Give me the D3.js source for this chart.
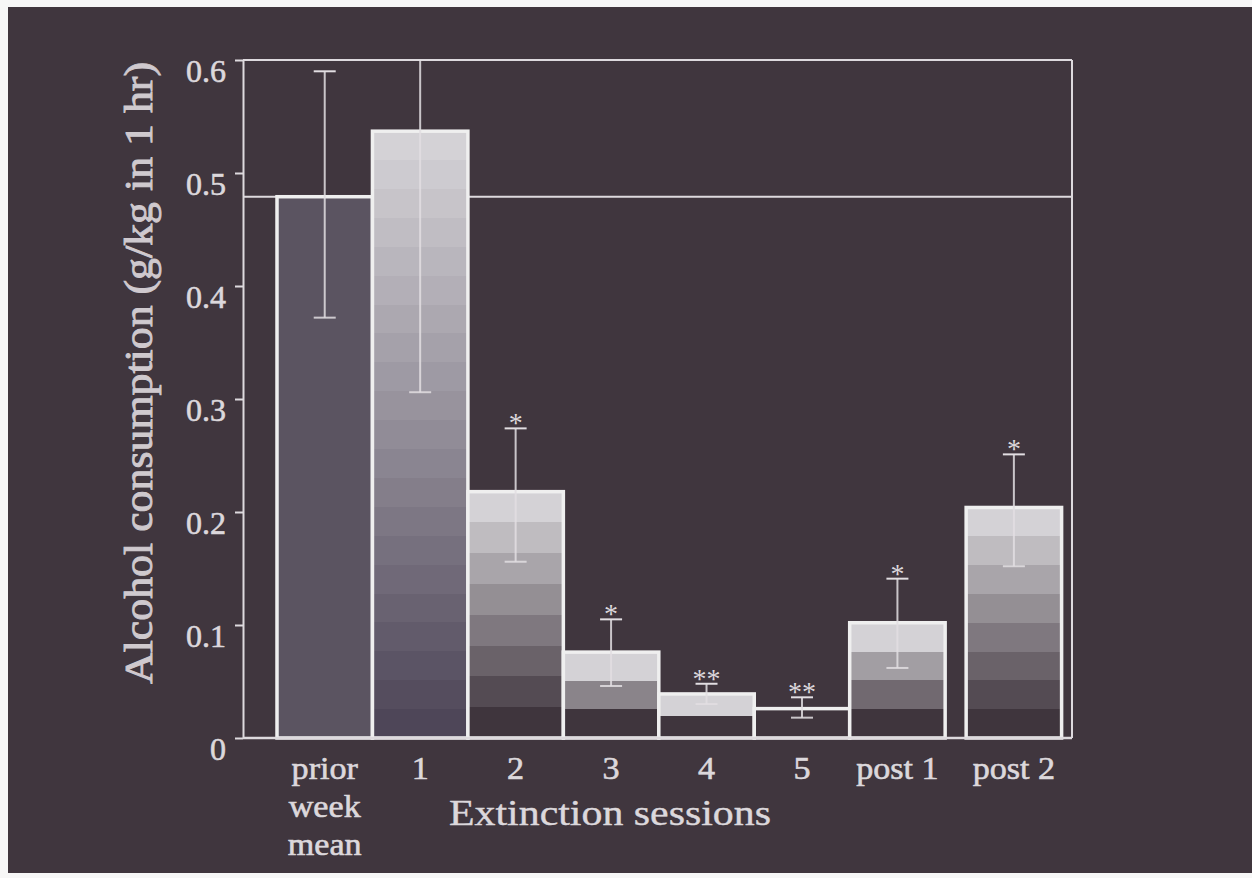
<!DOCTYPE html>
<html><head><meta charset="utf-8">
<script src="https://cdn.jsdelivr.net/npm/d3@7"></script>
<style>html,body{margin:0;padding:0;background:#fff;} svg{display:block}</style>
</head><body><svg id="chart" width="1252" height="878"></svg>
<script>
// ---- data ----
const categories = ["prior week mean", "1", "2", "3", "4", "5", "post 1", "post 2"];
const categoryLines = [["prior", "week", "mean"], ["1"], ["2"], ["3"], ["4"], ["5"], ["post 1"], ["post 2"]];
const means   = [0.479, 0.537, 0.218, 0.076, 0.039, 0.026, 0.102, 0.204];
const errHigh = [0.590, 0.768, 0.274, 0.105, 0.048, 0.036, 0.141, 0.251];
const errLow  = [0.372, 0.306, 0.156, 0.046, 0.030, 0.018, 0.062, 0.152];
const significance = ["", "", "*", "*", "**", "**", "*", "*"];
const yTicks = [0, 0.1, 0.2, 0.3, 0.4, 0.5, 0.6];
const yTickLabels = ["0", "0.1", "0.2", "0.3", "0.4", "0.5", "0.6"];
const priorMean = 0.479;
const yTitle = "Alcohol consumption (g/kg in 1 hr)";
const xTitle = "Extinction sessions";

// ---- layout ----
const W = 1252, H = 878;
const plot = {left: 243, top: 60, right: 1072, bottom: 738};
const barStart = 277, barStep = 95.45, post2Gap = 21;
const bg = "#40363e", lineCol = "#dedade", textCol = "#dcd8dc";
const lightFill = "#d4d2d6", darkFill = "#3f353d", bar1Dark = "#4e4658", priorFill = "#5b5461";

const svg = d3.select("#chart");
const defs = svg.append("defs");

svg.append("rect").attr("width", W).attr("height", H).attr("fill", bg);
// scan edge strips
svg.append("rect").attr("x", 0).attr("y", 0).attr("width", W).attr("height", 7).attr("fill", "#f7f7f7");
svg.append("rect").attr("x", 0).attr("y", 0).attr("width", 8).attr("height", H).attr("fill", "#f7f7f7");
svg.append("rect").attr("x", 0).attr("y", 873).attr("width", W).attr("height", 5).attr("fill", "#f7f7f7");

const y = d3.scaleLinear().domain([0, 0.6]).range([plot.bottom, plot.top]);
const x = d3.scaleBand().domain(categories).range([barStart, barStart + barStep * categories.length]).paddingInner(0).paddingOuter(0);
const xPos = d => x(d) + (d === "post 2" ? post2Gap : 0);
const bw = x.bandwidth();

const rows = categories.map((c, i) => ({c, i, m: means[i], hi: errHigh[i], lo: errLow[i], sig: significance[i], lines: categoryLines[i]}));

// frame: top and right borders, reference line
svg.append("line").attr("x1", plot.left).attr("x2", plot.right).attr("y1", plot.top).attr("y2", plot.top)
  .attr("stroke", lineCol).attr("stroke-width", 2);
svg.append("line").attr("x1", plot.right).attr("x2", plot.right).attr("y1", plot.top).attr("y2", plot.bottom)
  .attr("stroke", lineCol).attr("stroke-width", 2);
svg.append("line").attr("x1", plot.left).attr("x2", plot.right).attr("y1", y(priorMean)).attr("y2", y(priorMean))
  .attr("stroke", lineCol).attr("stroke-width", 2);

// gradients (stepped bands)
rows.forEach(r => {
  if (r.i === 0) return;
  const h = y(0) - y(r.m);
  const n = Math.max(1, Math.round(h / 29));
  const endCol = r.i === 1 ? bar1Dark : darkFill;
  const interp = d3.interpolateRgb(lightFill, endCol);
  const g = defs.append("linearGradient").attr("id", "grad" + r.i)
    .attr("x1", 0).attr("y1", 0).attr("x2", 0).attr("y2", 1);
  for (let k = 0; k < n; k++) {
    const col = n === 1 ? endCol : interp(k / (n - 1));
    g.append("stop").attr("offset", k / n).attr("stop-color", col);
    g.append("stop").attr("offset", (k + 1) / n).attr("stop-color", col);
  }
});

// bars
svg.append("g").selectAll("rect").data(rows).join("rect")
  .attr("x", d => xPos(d.c))
  .attr("y", d => y(d.m))
  .attr("width", bw)
  .attr("height", d => y(0) - y(d.m))
  .attr("fill", d => d.i === 0 ? priorFill : `url(#grad${d.i})`)
  .attr("stroke", "#efefef").attr("stroke-width", 3.5);

// error bars
const capW = 22;
const eb = svg.append("g").attr("stroke", "#e2dee2").attr("stroke-width", 2);
rows.forEach(r => {
  const cx = xPos(r.c) + bw / 2;
  const topV = Math.min(r.hi, 0.6), botV = Math.max(r.lo, 0);
  eb.append("line").attr("x1", cx).attr("x2", cx).attr("y1", y(topV)).attr("y2", y(botV))
    .attr("stroke-opacity", 0.85);
  if (r.hi <= 0.6) eb.append("line").attr("x1", cx - capW / 2).attr("x2", cx + capW / 2).attr("y1", y(r.hi)).attr("y2", y(r.hi));
  eb.append("line").attr("x1", cx - capW / 2).attr("x2", cx + capW / 2).attr("y1", y(r.lo)).attr("y2", y(r.lo))
    .attr("stroke-opacity", 0.85);
});

// significance stars
svg.append("g").selectAll("text").data(rows.filter(r => r.sig)).join("text")
  .attr("x", d => xPos(d.c) + bw / 2)
  .attr("y", d => y(d.hi) + 4)
  .attr("text-anchor", "middle")
  .attr("font-family", "Liberation Serif, serif").attr("font-size", 28)
  .attr("fill", textCol)
  .text(d => d.sig);

// y axis
const yAxis = d3.axisLeft(y).tickValues(yTicks).tickSize(8).tickSizeOuter(0)
  .tickFormat((d, i) => yTickLabels[i]);
const ya = svg.append("g").attr("transform", `translate(${plot.left},0)`).call(yAxis);
ya.select(".domain").attr("stroke", lineCol).attr("stroke-width", 2);
ya.selectAll(".tick line").attr("stroke", lineCol).attr("stroke-width", 2);
ya.selectAll(".tick text").attr("fill", textCol).attr("font-family", "Liberation Serif, serif")
  .attr("font-size", 32).attr("x", -17).attr("dy", 0).attr("y", 21)
  .attr("stroke", textCol).attr("stroke-width", 0.6);

// bottom axis line
svg.append("line").attr("x1", plot.left).attr("x2", plot.right).attr("y1", plot.bottom).attr("y2", plot.bottom)
  .attr("stroke", lineCol).attr("stroke-width", 2.5);

// x tick labels
const xl = svg.append("g").selectAll("g").data(rows).join("g")
  .attr("transform", d => `translate(${xPos(d.c) + bw / 2},0)`);
xl.each(function (d) {
  const t = d3.select(this).append("text")
    .attr("text-anchor", "middle")
    .attr("font-family", "Liberation Serif, serif").attr("font-size", 31)
    .attr("fill", textCol).attr("stroke", textCol).attr("stroke-width", 0.6)
    .attr("transform", "scale(1.1,1)");
  d.lines.forEach((ln, k) => t.append("tspan").attr("x", 0).attr("y", 779 + k * 38).text(ln));
});

// axis titles
svg.append("text").attr("x", 610).attr("y", 825).attr("text-anchor", "middle")
  .attr("font-family", "Liberation Serif, serif").attr("font-size", 35)
  .attr("textLength", 322).attr("lengthAdjust", "spacingAndGlyphs")
  .attr("fill", textCol).attr("stroke", textCol).attr("stroke-width", 0.4).text(xTitle);
svg.append("text").attr("transform", "translate(152,373) rotate(-90)").attr("text-anchor", "middle")
  .attr("font-family", "Liberation Serif, serif").attr("font-size", 39)
  .attr("textLength", 622).attr("lengthAdjust", "spacingAndGlyphs")
  .attr("fill", "#cfc9ce").attr("stroke", "#cfc9ce").attr("stroke-width", 0.9).text(yTitle);
</script></body></html>
